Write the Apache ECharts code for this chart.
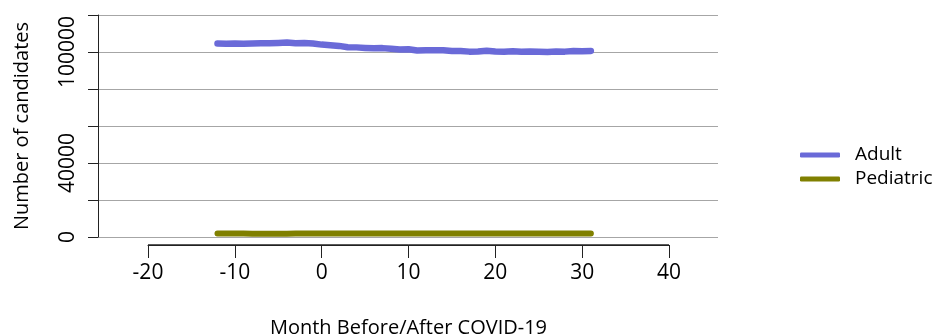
<!DOCTYPE html>
<html>
<head>
<meta charset="utf-8">
<script src="https://cdn.jsdelivr.net/npm/echarts@6/dist/echarts.min.js"></script>
<style>
  html, body { margin: 0; padding: 0; background: #fff; }
  #main { width: 940px; height: 335px; }
</style>
</head>
<body>
<div id="main"></div>
<script>
// months relative to COVID-19 onset
const months = [-12, -11, -10, -9, -8, -7, -6, -5, -4, -3, -2, -1, 0, 1, 2, 3, 4, 5, 6, 7, 8, 9, 10,
  11, 12, 13, 14, 15, 16, 17, 18, 19, 20, 21, 22, 23, 24, 25, 26, 27, 28, 29, 30, 31];
const adult = [104600, 104500, 104600, 104500, 104600, 104700, 104700, 104900, 105100, 104700, 104900, 104600,
  104000, 103700, 103300, 102600, 102500, 102200, 102000, 102100, 101700, 101400, 101500,
  100800, 101000, 100900, 100900, 100500, 100600, 100200, 100300, 100700, 100300, 100200, 100400,
  100100, 100300, 100100, 100000, 100300, 100200, 100500, 100400, 100600];
const pediatric = [1900, 1900, 1850, 1850, 1800, 1800, 1800, 1800, 1800, 1850, 1850, 1850,
  1900, 1900, 1900, 1950, 1950, 1950, 1950, 1950, 1950, 1950, 1950,
  1950, 1950, 1950, 1950, 1950, 1950, 1950, 1950, 1950, 1950, 1950, 1950,
  1950, 1950, 1950, 1950, 1950, 1950, 1950, 1950, 1950];
const yTicksShown = [0, 40000, 100000];

const pairs = (vals) => months.map((m, i) => [m, vals[i]]);
const font = 'Open Sans';

var chart = echarts.init(document.getElementById('main'));
chart.setOption({
  animation: false,
  textStyle: { fontFamily: font, color: '#000' },
  grid: [
    { left: 98, top: 15, width: 620, height: 222, outerBoundsMode: 'none' },
    // flat grid used only as the detached x axis (its border draws the axis line)
    {
      left: 148, top: 245, width: 521, height: 0, outerBoundsMode: 'none',
      show: true, borderWidth: 1, borderColor: '#222', backgroundColor: 'transparent'
    }
  ],
  xAxis: [
    { type: 'value', gridIndex: 0, min: -25.76, max: 45.64, show: false },
    {
      type: 'value', gridIndex: 1, min: -20, max: 40, interval: 10, position: 'bottom',
      axisLine: { show: true, onZero: false, lineStyle: { color: '#222', width: 1 } },
      axisTick: { show: true, length: 13, lineStyle: { color: '#222' } },
      axisLabel: { fontSize: 21, color: '#000', margin: 18, fontFamily: font },
      splitLine: { show: false },
      name: 'Month Before/After COVID-19', nameLocation: 'middle', nameGap: 73,
      nameTextStyle: { fontSize: 20, color: '#000', fontFamily: font }
    }
  ],
  yAxis: [
    {
      type: 'value', gridIndex: 0, min: 0, max: 120000, interval: 20000,
      axisLine: { show: true, onZero: false, lineStyle: { color: '#222', width: 1 } },
      axisTick: { show: true, length: 10, lineStyle: { color: '#222' } },
      axisLabel: {
        rotate: 90, fontSize: 21, color: '#000', margin: 19, fontFamily: font,
        formatter: (v) => yTicksShown.indexOf(v) >= 0 ? String(v) : ''
      },
      splitLine: { show: true, lineStyle: { color: '#a6a6a6', width: 1 } },
      name: 'Number of candidates', nameLocation: 'middle', nameGap: 66,
      nameTextStyle: { fontSize: 20, color: '#000', fontFamily: font }
    },
    {
      type: 'value', gridIndex: 1, min: 0, max: 1,
      axisLine: { show: false }, axisTick: { show: false }, axisLabel: { show: false },
      splitLine: { show: false }
    }
  ],
  legend: {
    orient: 'vertical', left: 800, top: 145, itemWidth: 40, itemHeight: 5, itemGap: 4,
    icon: 'roundRect', padding: 0,
    textStyle: { fontSize: 19, lineHeight: 20, color: '#000', fontFamily: font, padding: [0, 0, 0, 10] },
    data: ['Adult', 'Pediatric']
  },
  series: [
    {
      name: 'Adult', type: 'line', xAxisIndex: 0, yAxisIndex: 0, data: pairs(adult),
      showSymbol: false, color: '#6a6ad8',
      lineStyle: { width: 6.5, cap: 'round', join: 'round' }
    },
    {
      name: 'Pediatric', type: 'line', xAxisIndex: 0, yAxisIndex: 0, data: pairs(pediatric),
      showSymbol: false, color: '#808000',
      lineStyle: { width: 6, cap: 'round', join: 'round' }
    }
  ]
});
</script>
</body>
</html>
